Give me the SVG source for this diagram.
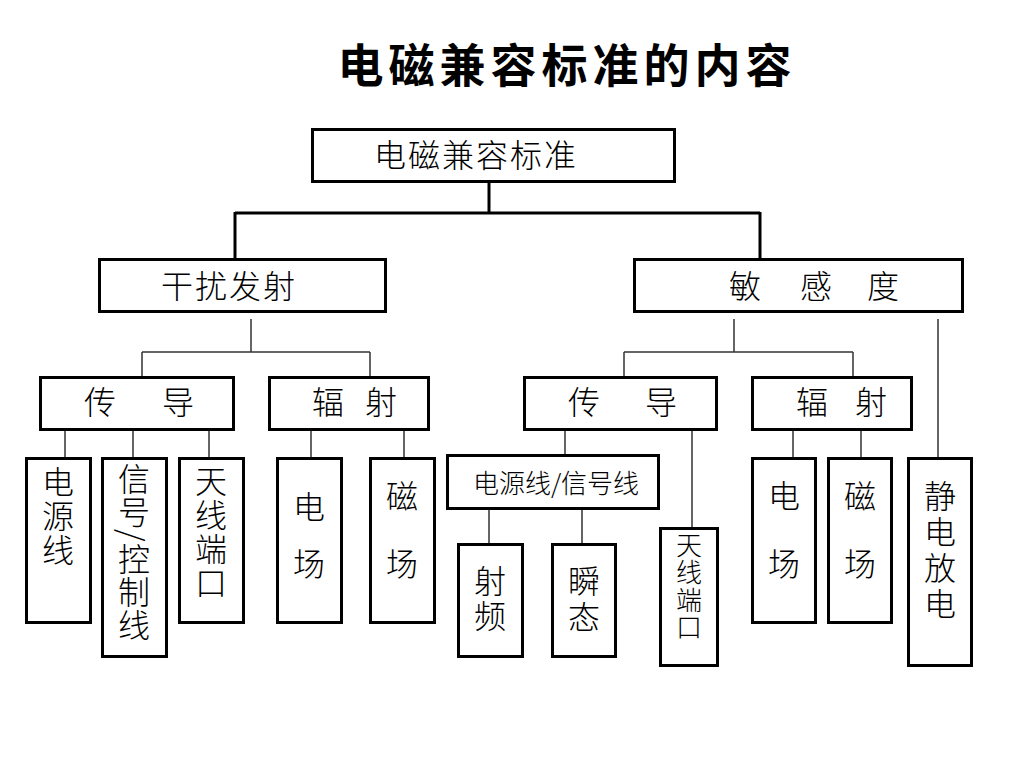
<svg xmlns="http://www.w3.org/2000/svg" width="1024" height="768" viewBox="0 0 1024 768">
<style>
.box{fill:#fff;stroke:#000;stroke-width:3}
.t{font-family:"Noto Sans CJK SC","Noto Sans CJK JP",sans-serif;font-size:32px;font-weight:300;fill:#000}
.v{writing-mode:vertical-rl}
.thick{fill:none;stroke:#000;stroke-width:3}
.thin{fill:none;stroke:#333;stroke-width:1.5}
</style>
<rect width="1024" height="768" fill="#fff"/>
<text x="567" y="82" text-anchor="middle" style="font-family:'Noto Sans CJK SC',sans-serif;font-size:46px;font-weight:bold;letter-spacing:5px">电磁兼容标准的内容</text>
<g id="connectors">
<path class="thick" d="M489 182V213M235 213H760M235 212V258M760 212V258"/>
<path class="thin" d="M251 319V352M142 352H370M142 352V376M370 352V376"/>
<path class="thin" d="M65 430V457M133 430V457M209 430V457M311 430V457M404 430V457"/>
<path class="thin" d="M734 319V352M624 352H853M624 352V376M853 352V376"/>
<path class="thin" d="M565 430V454M692 430V527M489 509V543M582 509V543M793 430V457M861 430V457M938 319V457"/>
</g>
<g id="n-root"><rect class="box" x="312.5" y="129.5" width="362" height="52"/><text class="t" x="476" y="167" text-anchor="middle" style="letter-spacing:2px">电磁兼容标准</text></g>
<g id="n-emission"><rect class="box" x="99.5" y="259.5" width="286" height="52"/><text class="t" x="229" y="298" text-anchor="middle" style="letter-spacing:2px">干扰发射</text></g>
<g id="n-susceptibility"><rect class="box" x="634.5" y="259.5" width="328" height="52"/><text class="t" y="298"><tspan x="729">敏</tspan><tspan x="800">感</tspan><tspan x="867">度</tspan></text></g>
<g id="n-e-cond"><rect class="box" x="40.5" y="377.5" width="193" height="52"/><text class="t" y="414"><tspan x="84">传</tspan><tspan x="162">导</tspan></text></g>
<g id="n-e-rad"><rect class="box" x="269.5" y="377.5" width="159" height="52"/><text class="t" y="414"><tspan x="312">辐</tspan><tspan x="365">射</tspan></text></g>
<g id="n-s-cond"><rect class="box" x="524.5" y="377.5" width="192" height="52"/><text class="t" y="414"><tspan x="568">传</tspan><tspan x="645">导</tspan></text></g>
<g id="n-s-rad"><rect class="box" x="752.5" y="377.5" width="159" height="52"/><text class="t" y="414"><tspan x="796">辐</tspan><tspan x="855">射</tspan></text></g>
<g id="n-power"><rect class="box" x="26.5" y="458.5" width="64" height="164"/><text class="t v" x="58" y="466" style="letter-spacing:2px">电源线</text></g>
<g id="n-signal"><rect class="box" x="102.5" y="458.5" width="64" height="198"/><text class="t v" x="134" y="463" style="letter-spacing:1px">信号/控制线</text></g>
<g id="n-antenna-e"><rect class="box" x="179.5" y="458.5" width="64" height="164"/><text class="t v" x="211" y="465" style="letter-spacing:2px">天线端口</text></g>
<g id="n-efield-e"><rect class="box" x="277.5" y="458.5" width="64" height="164"/><text class="t v" x="309" y="491" style="letter-spacing:25px">电场</text></g>
<g id="n-mfield-e"><rect class="box" x="370.5" y="458.5" width="64" height="164"/><text class="t v" x="402" y="480" style="letter-spacing:36px">磁场</text></g>
<g id="n-ps"><rect class="box" x="447.5" y="455.5" width="211" height="53"/><text class="t" x="556" y="493" text-anchor="middle" style="font-size:26px">电源线/信号线</text></g>
<g id="n-rf"><rect class="box" x="458.5" y="544.5" width="64" height="112"/><text class="t v" x="490" y="565" style="letter-spacing:3px">射频</text></g>
<g id="n-transient"><rect class="box" x="552.5" y="544.5" width="63" height="112"/><text class="t v" x="584" y="565" style="letter-spacing:4px">瞬态</text></g>
<g id="n-antenna-s"><rect class="box" x="660.5" y="528.5" width="57" height="137"/><text class="t v" x="689" y="532" style="font-size:26px;letter-spacing:1.5px">天线端口</text></g>
<g id="n-efield-s"><rect class="box" x="752.5" y="458.5" width="63" height="164"/><text class="t v" x="784" y="480" style="letter-spacing:36px">电场</text></g>
<g id="n-mfield-s"><rect class="box" x="828.5" y="458.5" width="63" height="164"/><text class="t v" x="860" y="480" style="letter-spacing:36px">磁场</text></g>
<g id="n-esd"><rect class="box" x="908.5" y="458.5" width="63" height="207"/><text class="t v" x="940" y="480" style="letter-spacing:4px">静电放电</text></g>
</svg>
